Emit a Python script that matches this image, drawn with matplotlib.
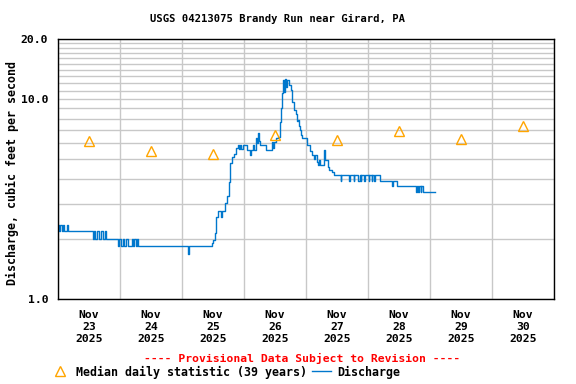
import matplotlib
matplotlib.use("Agg")
import matplotlib.pyplot as plt
import matplotlib.ticker as mticker
from matplotlib.lines import Line2D
import numpy as np

# ---- data ----
# discharge: hours since 2025-11-23 00:00, cfs
hours = [0.0, 0.5, 0.75, 1.5, 2.0, 2.25, 3.5, 3.75,
         13.5, 13.75, 14.5, 15.0, 16.0, 16.5, 17.5, 18.0, 18.5,
         23.2, 23.5, 24.5, 25.0, 25.5, 26.5, 27.0, 28.5, 29.0, 29.5, 30.0, 30.6, 31.0,
         50.3, 50.6,
         59.6, 60.0, 60.8, 61.2, 61.9, 63.0, 63.3, 64.6, 65.4, 66.2, 66.6, 67.4, 68.1,
         68.9, 69.7, 70.0, 70.5, 71.0, 71.5, 73.0, 74.3, 74.6, 75.5, 76.0, 76.6, 77.0,
         77.4, 77.8, 78.2, 80.5, 82.8, 83.2, 83.6, 84.4, 85.2, 85.9, 86.3, 86.7, 87.1,
         87.5, 87.9, 88.3, 88.6, 89.4, 90.2, 90.6, 91.4, 92.1, 92.5, 92.9, 93.3, 93.7,
         94.1, 94.5, 96.4, 97.5, 98.3, 99.1, 99.5, 100.3, 100.6, 101.0, 101.4, 103.0,
         103.4, 104.5, 105.0, 106.1, 106.8,
         109.4, 109.7, 112.8, 113.1, 114.4, 114.7, 116.3, 116.8, 117.1, 117.4,
         118.6, 118.9, 120.2, 120.5, 121.4, 121.7, 122.5, 122.8,
         124.6, 129.3, 129.6, 131.2, 138.6, 138.9, 139.4, 139.7, 140.4, 140.7,
         141.3, 146.0]
cfs = [2.34, 2.19, 2.34, 2.19, 2.34, 2.19, 2.34, 2.19,
       2.0, 2.19, 2.0, 2.19, 2.0, 2.19, 2.0, 2.19, 2.0,
       1.84, 2.0, 1.84, 2.0, 1.84, 2.0, 1.84, 2.0, 1.84, 2.0, 1.84, 2.0, 1.84,
       1.68, 1.84,
       1.90, 1.97, 2.14, 2.57, 2.76, 2.57, 2.76, 3.02, 3.28, 3.85, 4.79, 5.13, 5.3,
       5.7, 5.9, 5.6, 5.9, 5.6, 5.9, 5.57, 5.25, 5.57, 5.9, 5.57, 6.4, 6.0,
       6.8, 6.2, 5.9, 5.57, 6.1, 5.7, 6.1, 6.4, 6.5, 7.7, 9.0, 10.7, 12.4,
       10.8, 12.6, 11.5, 12.4, 11.8, 11.1, 9.7, 8.8, 8.4, 7.8, 7.9, 7.3, 7.0,
       6.6, 6.4, 5.9, 5.5, 5.25, 5.0, 5.25, 4.85, 4.7, 4.96, 4.7, 5.57,
       4.96, 4.58, 4.4, 4.32, 4.17,
       3.9, 4.17, 3.9, 4.17, 3.9, 4.17, 3.9, 4.17, 3.9, 4.17,
       3.9, 4.17, 3.9, 4.17, 3.9, 4.17, 3.9, 4.17,
       3.9, 3.68, 3.9, 3.68, 3.43, 3.68, 3.43, 3.68, 3.43, 3.68,
       3.43, 3.43]

# median daily statistic (at noon of each day)
median_days = [0, 1, 2, 3, 4, 5, 6, 7]
median_cfs = [6.18, 5.5, 5.31, 6.62, 6.28, 6.89, 6.3, 7.36]

day_labels = ["Nov\n23\n2025", "Nov\n24\n2025", "Nov\n25\n2025", "Nov\n26\n2025",
              "Nov\n27\n2025", "Nov\n28\n2025", "Nov\n29\n2025", "Nov\n30\n2025"]
y_ticks = [1.0, 10.0, 20.0]
y_ticklabels = ["1.0", "10.0", "20.0"]

title = "USGS 04213075 Brandy Run near Girard, PA"
ylabel = "Discharge, cubic feet per second"

# ---- plot ----
FONT = "DejaVu Sans Mono"
fs = 8.2
blue = "#0077cc"
orange = "#ffa500"

fig = plt.figure(figsize=(5.76, 3.84), dpi=100)
ax = fig.add_axes([58/576, 1-299/384, (554-58)/576, (299-39)/384])

t_days = np.array(hours) / 24.0
ax.plot(t_days, cfs, drawstyle="steps-post", color=blue, lw=1.0)
ax.plot(np.array(median_days) + 0.5, median_cfs, linestyle="none", marker="^",
        markersize=7, mfc="none", mec=orange, mew=1.0)

ax.set_yscale("log")
ax.set_ylim(1.0, 20.0)
ax.set_xlim(0, 8)

ax.yaxis.set_major_locator(mticker.FixedLocator(y_ticks))
ax.yaxis.set_major_formatter(mticker.FixedFormatter(y_ticklabels))
ax.yaxis.set_minor_locator(mticker.FixedLocator(list(range(1, 21))))
ax.yaxis.set_minor_formatter(mticker.NullFormatter())

ax.xaxis.set_major_locator(mticker.FixedLocator(np.array(median_days) + 0.5))
ax.xaxis.set_major_formatter(mticker.FixedFormatter(day_labels))
ax.xaxis.set_minor_locator(mticker.FixedLocator(list(range(0, 9))))

ax.grid(True, which="minor", axis="both", color="#c8c8c8", lw=1.0)
ax.grid(False, which="major", axis="x")
ax.grid(True, which="major", axis="y", color="#c8c8c8", lw=1.0)
ax.set_axisbelow(True)
ax.tick_params(which="both", length=0)
ax.tick_params(axis="x", pad=8)
ax.tick_params(axis="y", pad=7)
for lab in ax.get_xticklabels() + ax.get_yticklabels():
    lab.set_fontfamily(FONT)
    lab.set_fontweight("bold")
    lab.set_fontsize(fs)
    lab.set_linespacing(1.22)
for sp in ax.spines.values():
    sp.set_color("black")
    sp.set_linewidth(1.0)

fig.text(277/576, 1 - 19/384, title, ha="center", va="center",
         fontfamily=FONT, fontweight="bold", fontsize=7.6)
fig.text(12/576, 1 - 173/384, ylabel, rotation=90, ha="center", va="center",
         fontfamily=FONT, fontweight="bold", fontsize=8.4)
fig.text(302/576, 1 - 358/384, "---- Provisional Data Subject to Revision ----",
         ha="center", va="center", color="red",
         fontfamily=FONT, fontweight="bold", fontsize=8.2)

handles = [Line2D([], [], linestyle="none", marker="^", markersize=7, mfc="none",
                  mec=orange, mew=1.0),
           Line2D([], [], color=blue, lw=1.0)]
leg = fig.legend(handles, ["Median daily statistic (39 years)", "Discharge"],
                 loc="center left", bbox_to_anchor=(51/576, 1 - 372/384), ncol=2,
                 frameon=False, handlelength=1.6, handletextpad=0.5,
                 columnspacing=0.5, borderaxespad=0, borderpad=0,
                 prop={"family": FONT, "weight": "bold", "size": 8.4})

fig.savefig("out.png", dpi=100)
